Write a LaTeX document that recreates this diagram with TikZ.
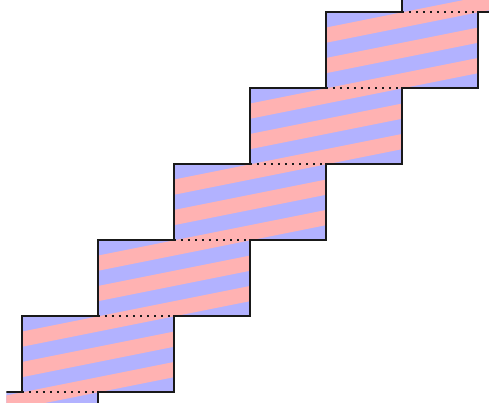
\documentclass[tikz,border=0pt]{standalone}
\begin{document}
\begin{tikzpicture}[
  outline/.style={line width=0.75pt, black!90, line join=miter},
  shared/.style={line width=0.75pt, black!90, dash pattern=on 0.75pt off 1.9pt},
  stripeb/.style={fill=blue!30},
  stripea/.style={fill=red!30}
]
\useasboundingbox (-0.283,-0.138) rectangle (6.151,5.164);
\begin{scope}
  \clip (-0.2,-0.138) rectangle (6.151,5.164);
  \begin{scope}
    \clip foreach \k in {-1,...,6} {(\k,\k) rectangle ++(2,1)};
    \fill[stripeb] (-2,-2) rectangle (9,8);
    \foreach \n in {-6,...,15}
      \fill[stripea] (-2,{-0.4+0.4*\n+0.2}) -- (9,{1.8+0.4*\n+0.2})
                  -- (9,{1.8+0.4*\n+0.4}) -- (-2,{-0.4+0.4*\n+0.4}) -- cycle;
  \end{scope}
  % outer staircase outlines
  \draw[outline] (-1,-1) foreach \k in {-1,...,6} {-- (\k,\k+1) -- (\k+1,\k+1)};
  \draw[outline] (0,-1) foreach \k in {-1,...,6} {-- (\k+2,\k) -- (\k+2,\k+1)};
  % shared (glued) edges
  \foreach \k in {-1,...,5}
    \draw[shared] (\k+1,\k+1) -- (\k+2,\k+1);
\end{scope}
\end{tikzpicture}
\end{document}
